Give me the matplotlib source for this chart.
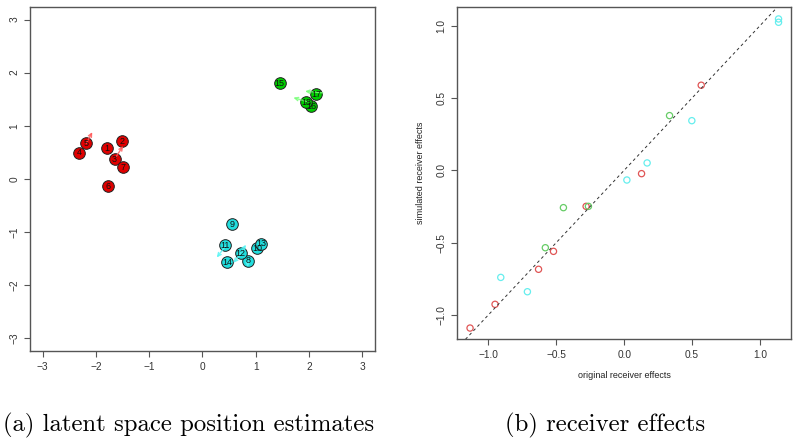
import matplotlib
matplotlib.use("Agg")
import matplotlib.pyplot as plt
import numpy as np

# LATENT POSITIONS (panel a)
node_ids = list(range(1, 19))
node_x = [-1.79, -1.51, -1.65, -2.32, -2.18, -1.77, -1.50,
          0.85, 0.56, 1.03, 0.43, 0.72, 1.10, 0.46,
          1.45, 2.04, 2.14, 1.95]
node_y = [0.575, 0.71, 0.37, 0.49, 0.67, -0.14, 0.22,
          -1.54, -0.85, -1.31, -1.25, -1.40, -1.22, -1.57,
          1.80, 1.37, 1.59, 1.44]
# 0 = red, 1 = cyan, 2 = green
node_group = [0] * 7 + [1] * 7 + [2] * 4

# ARROWS (group, start, end)
arrow_group = [0, 0, 2, 2, 1, 1, 1, 1]
arrow_x0 = [-2.18, -1.62, 2.26, 1.98, 0.43, 0.68, 0.72, 0.85]
arrow_y0 = [0.67, 0.42, 1.62, 1.45, -1.27, -1.45, -1.42, -1.52]
arrow_x1 = [-2.07, -1.49, 1.93, 1.71, 0.27, 0.82, 0.58, 0.85]
arrow_y1 = [0.88, 0.62, 1.65, 1.53, -1.48, -1.24, -1.58, -1.66]

# RECEIVER EFFECTS (panel b)
orig_red = [-1.134, -0.95, -0.63, -0.52, -0.28, 0.128, 0.567]
sim_red = [-1.09, -0.926, -0.684, -0.56, -0.249, -0.023, 0.588]
orig_green = [-0.58, -0.447, -0.263, 0.334]
sim_green = [-0.535, -0.258, -0.249, 0.378]
orig_cyan = [-0.908, -0.712, 0.02, 0.169, 0.498, 1.136, 1.136]
sim_cyan = [-0.74, -0.839, -0.067, 0.051, 0.343, 1.046, 1.023]

fill_cols = ["#E00000", "#22DEDE", "#00CD00"]
arrow_cols = ["#FF5A5A", "#5AF5F5", "#7AFF7A"]
open_cols = {"red": "#E05555", "green": "#66CC66", "cyan": "#66EEEE"}


def _r_style(ax):
    for sp in ax.spines.values():
        sp.set_color("#555555")
        sp.set_linewidth(1.0)
    ax.tick_params(direction="out", length=4.3, width=0.8, color="#555555",
                   labelsize=7.3, pad=3.5, labelcolor="#333333")
    for lab in ax.get_xticklabels() + ax.get_yticklabels():
        lab.set_family("Liberation Sans")
    for lab in ax.get_yticklabels():
        lab.set_rotation(90)
        lab.set_va("center")


fig = plt.figure(figsize=(8, 4.43), dpi=100)

# ----- PANEL A -----
ax1 = fig.add_axes([0.0375, 0.2077, 0.431, 0.777])
ids = np.array(node_ids)
nx = np.array(node_x)
ny = np.array(node_y)
grp = np.array(node_group)
for g in range(3):
    m = grp == g
    ax1.scatter(nx[m], ny[m], s=70, c=fill_cols[g], edgecolors="#202020",
                linewidths=0.7, zorder=3)
for i in range(len(arrow_group)):
    ax1.annotate("", xy=(arrow_x1[i], arrow_y1[i]), xytext=(arrow_x0[i], arrow_y0[i]),
                 arrowprops=dict(arrowstyle="->,head_length=0.25,head_width=0.12",
                                 color=arrow_cols[arrow_group[i]], lw=1.0, alpha=0.85,
                                 shrinkA=0, shrinkB=0),
                 zorder=3.5)
for k in range(len(ids)):
    ax1.text(nx[k], ny[k], str(ids[k]), ha="center", va="center",
             fontsize=6.5, family="Liberation Sans", color="#111111", zorder=4)
ax1.set_xlim(-3.24, 3.24)
ax1.set_ylim(-3.24, 3.24)
ax1.set_xticks(np.arange(-3, 4))
ax1.set_yticks(np.arange(-3, 4))
_r_style(ax1)

# ----- PANEL B -----
ax2 = fig.add_axes([0.5716, 0.234, 0.4172, 0.751])
ax2.scatter(orig_red, sim_red, s=20, facecolors="none", edgecolors=open_cols["red"], linewidths=0.9)
ax2.scatter(orig_green, sim_green, s=20, facecolors="none", edgecolors=open_cols["green"], linewidths=0.9)
ax2.scatter(orig_cyan, sim_cyan, s=20, facecolors="none", edgecolors=open_cols["cyan"], linewidths=0.9)
ax2.axline((0, 0), slope=1, color="#333333", lw=0.7, ls=(0, (3, 3)))
ax2.set_xlim(-1.228, 1.228)
ax2.set_ylim(-1.168, 1.131)
ax2.set_xticks([-1.0, -0.5, 0.0, 0.5, 1.0])
ax2.set_yticks([-1.0, -0.5, 0.0, 0.5, 1.0])
ax2.set_xticklabels(["\u22121.0", "\u22120.5", "0.0", "0.5", "1.0"])
ax2.set_yticklabels(["\u22121.0", "\u22120.5", "0.0", "0.5", "1.0"])
ax2.set_xlabel("original receiver effects", fontsize=6.5, family="Liberation Sans",
               labelpad=8, color="#222222")
ax2.set_ylabel("simulated receiver effects", fontsize=6.5, family="Liberation Sans",
               labelpad=8, color="#222222")
_r_style(ax2)

# ----- CAPTIONS -----
fig.text(0.236, 0.04, "(a) latent space position estimates", ha="center", va="center",
         family="cmr10", fontsize=17.8)
fig.text(0.756, 0.04, "(b) receiver effects", ha="center", va="center",
         family="cmr10", fontsize=17.8)

fig.savefig("out.png", dpi=100)
